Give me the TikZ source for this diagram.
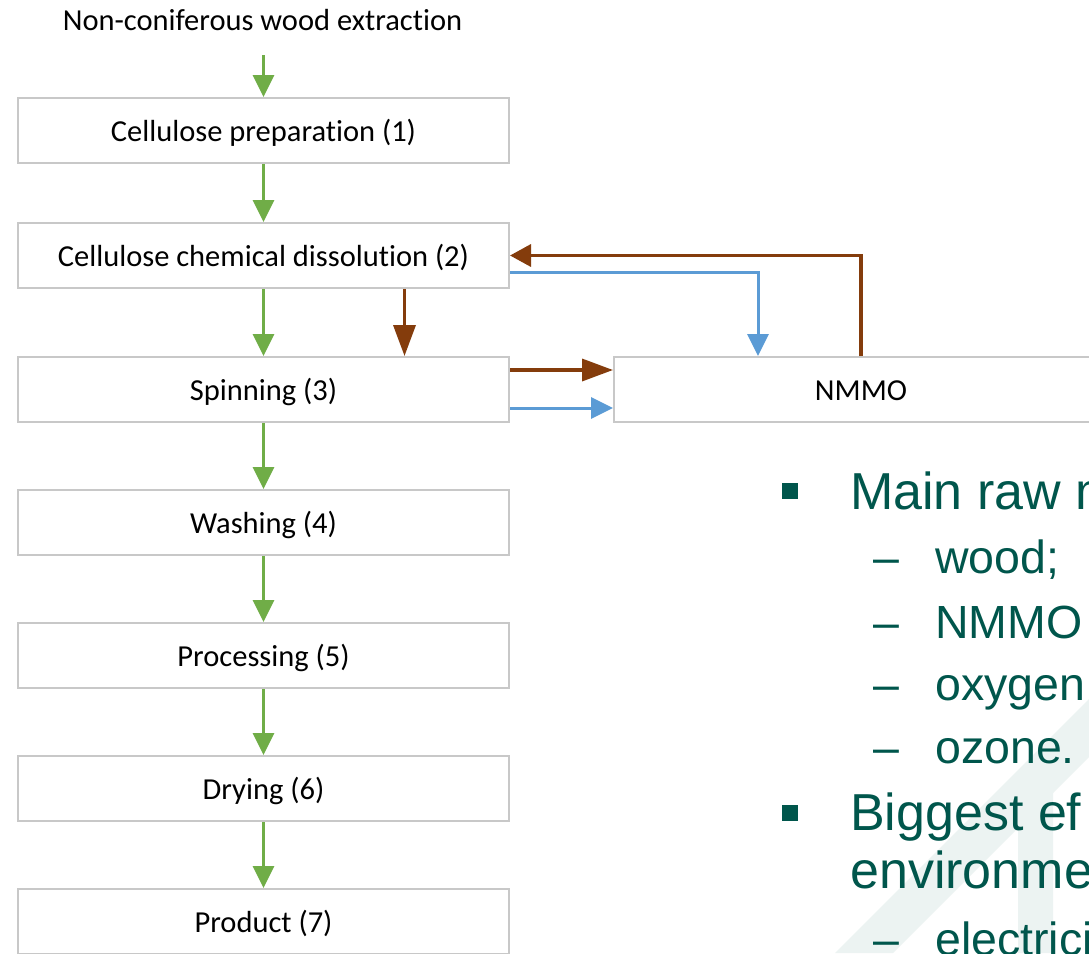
\documentclass[tikz,border=0pt]{standalone}
\usepackage{fontspec}
\setmainfont{Carlito}[Ligatures={NoCommon,NoRare,NoContextual}]
\newfontfamily\slidefont{Liberation Sans}
\usetikzlibrary{arrows.meta}

\definecolor{flowgreen}{HTML}{70AD47}
\definecolor{flowbrown}{HTML}{843C0C}
\definecolor{flowblue}{HTML}{5B9BD5}
\definecolor{boxgray}{RGB}{200,200,200}
\definecolor{slideteal}{HTML}{00564C}
\definecolor{markfill}{HTML}{ECF3F2}

\begin{document}
\begin{tikzpicture}[x=1pt, y=-1pt,
  stage/.style={draw=boxgray, line width=2pt, minimum width=491pt,
    minimum height=65pt, inner sep=0pt, anchor=north west,
    text height=26pt, text depth=5pt,
    font=\fontsize{30.5}{36}\selectfont},
  greenflow/.style={draw=flowgreen, line width=3pt,
    -{Triangle[length=22pt, width=21pt]}},
  brownflow/.style={draw=flowbrown, line width=3.5pt,
    -{Triangle[length=31pt, width=22pt]}},
  backflow/.style={draw=flowbrown, line width=3.5pt,
    -{Triangle[length=21pt, width=22pt]}},
  blueflow/.style={draw=flowblue, line width=3pt,
    -{Triangle[length=22pt, width=21pt]}},
  bulletsq/.style={fill=slideteal, minimum size=16pt, inner sep=0pt},
  headline/.style={anchor=base west, text=slideteal, inner sep=0pt,
    font=\slidefont\fontsize{52}{60}\selectfont},
  subline/.style={anchor=base west, text=slideteal, inner sep=0pt,
    font=\slidefont\fontsize{46.5}{54}\selectfont},
]
\clip (0,0) rectangle (1089,953);
\fill[white] (0,0) rectangle (1089,953);

% faint logo shapes in the corner
\fill[markfill] (835,953) -- (1089,699) -- (1089,757) -- (893,953) -- cycle;
\fill[markfill] (1018,800) -- (1053,765) -- (1053,953) -- (1018,953) -- cycle;

% process chain
\node[anchor=base, inner sep=2pt, font=\fontsize{30.5}{36}\selectfont]
  (src) at (262.5,30) {Non-coniferous wood extraction};
\node[stage] (s1) at (17,97)  {Cellulose preparation (1)};
\node[stage] (s2) at (17,222) {Cellulose chemical dissolution (2)};
\node[stage] (s3) at (17,356) {Spinning (3)};
\node[stage] (s4) at (17,489) {Washing (4)};
\node[stage] (s5) at (17,622) {Processing (5)};
\node[stage] (s6) at (17,755) {Drying (6)};
\node[stage] (s7) at (17,888) {Product (7)};
\node[stage, minimum width=494pt] (nmmo) at (613,356) {NMMO};

\draw[greenflow, shorten <=23pt] (src.south -| s1.north) -- (s1.north);
\draw[greenflow] (s1.south) -- (s2.north);
\draw[greenflow] (s2.south) -- (s3.north);
\draw[greenflow] (s3.south) -- (s4.north);
\draw[greenflow] (s4.south) -- (s5.north);
\draw[greenflow] (s5.south) -- (s6.north);
\draw[greenflow] (s6.south) -- (s7.north);

% solvent loop
\draw[brownflow] ([xshift=141pt]s2.south) -- ([xshift=141pt]s3.north);
\draw[backflow] (nmmo.north) |- (s2.east);
\draw[blueflow] ([yshift=-17pt]s2.east) -| ([xshift=-103pt]nmmo.north);
\draw[brownflow] ([yshift=19.5pt]s3.east) -- ([yshift=19.5pt]nmmo.west);
\draw[blueflow] ([yshift=-18.5pt]s3.east) -- ([yshift=-18.5pt]nmmo.west);

% bullet list
\node[bulletsq] (q1) at (790,490.5) {};
\node[headline] (h1) at (850,509) {Main raw m};
\node[subline] (d1) at (873,573) {–};
\node[subline] (w1) at (935,573) {wood;};
\node[subline] (d2) at (873,638) {–};
\node[subline] (w2) at (935,638) {NMMO};
\node[subline] (d3) at (873,700) {–};
\node[subline] (w3) at (935,700) {oxygen};
\node[subline] (d4) at (873,763) {–};
\node[subline] (w4) at (935,763) {ozone.};
\node[bulletsq] (q2) at (790,813) {};
\node[headline] (h2) at (850,830) {Biggest ef};
\node[headline] (h3) at (850,888) {environme};
\node[subline] (d5) at (873,955) {–};
\node[subline] (w5) at (935,955) {electrici};
\end{tikzpicture}
\end{document}
